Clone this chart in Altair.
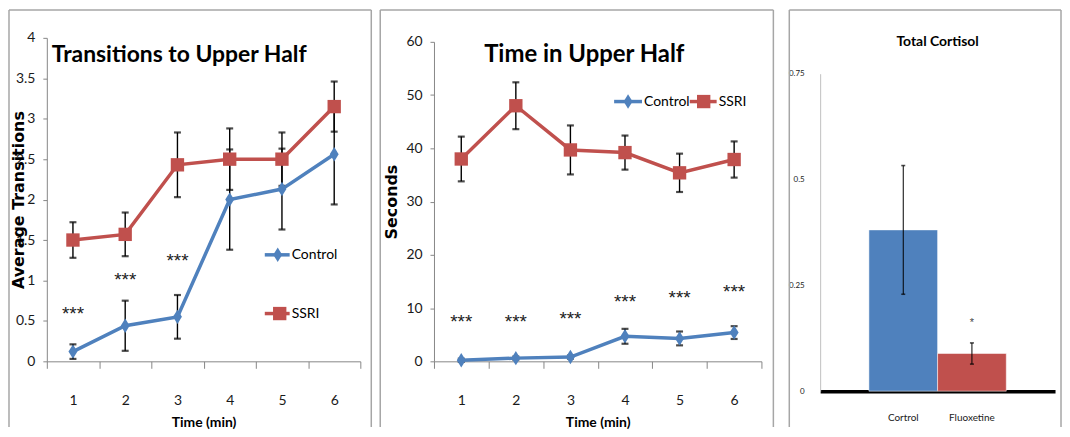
import altair as alt
import pandas as pd

# ---------------- data ----------------
minutes = [1, 2, 3, 4, 5, 6]
series_names = ["Control", "SSRI"]

transitions_control = [0.12, 0.44, 0.55, 2.00, 2.13, 2.56]
transitions_control_err = [0.09, 0.31, 0.27, 0.62, 0.50, 0.62]
transitions_ssri = [1.50, 1.57, 2.43, 2.50, 2.50, 3.15]
transitions_ssri_err = [0.22, 0.27, 0.40, 0.38, 0.33, 0.31]
transitions_star_minutes = [1, 2, 3]
transitions_star_y = [0.58, 1.00, 1.24]

time_control = [0.2, 0.6, 0.8, 4.7, 4.3, 5.4]
time_control_err = [0.3, 0.3, 0.3, 1.4, 1.3, 1.2]
time_ssri = [38.0, 48.0, 39.7, 39.2, 35.4, 37.9]
time_ssri_err = [4.2, 4.4, 4.6, 3.2, 3.6, 3.4]
time_star_minutes = [1, 2, 3, 4, 5, 6]
time_star_y = [7.3, 7.3, 7.9, 11.2, 11.8, 13.1]

cortisol_groups = ["Cortrol", "Fluoxetine"]
cortisol_values = [0.381, 0.089]
cortisol_err = [0.152, 0.025]
cortisol_star_group = ["Fluoxetine"]
cortisol_star_y = [0.16]

# ---------------- style ----------------
BLUE = "#4F81BD"
RED = "#C0504D"
NARROW = "Lato, Roboto, sans-serif"
WIDE = "DejaVu Sans, Verdana, sans-serif"
BORDER = "#A6A6A6"
AXIS = "#868686"
DIAMOND = "M0,-1L0.62,0L0,1L-0.62,0Z"
TOP = 28        # border top above the common plot top
PANEL_H = 419   # border height


def series_frame(vals_c, err_c, vals_s, err_s):
    rows = []
    for name, vals, errs in (("Control", vals_c, err_c), ("SSRI", vals_s, err_s)):
        for m, v, e in zip(minutes, vals, errs):
            rows.append({"minute": m, "series": name, "value": v, "lo": v - e, "hi": v + e})
    return pd.DataFrame(rows)


def frame_rules(left, right):
    base = alt.Chart(pd.DataFrame({"k": [0]}))
    st = dict(color=BORDER, strokeWidth=1.5)
    top, bottom = -TOP, PANEL_H - TOP
    return [
        base.mark_rule(**st).encode(x=alt.value(left), y=alt.value(top), y2=alt.value(bottom)),
        base.mark_rule(**st).encode(x=alt.value(right), y=alt.value(top), y2=alt.value(bottom)),
        base.mark_rule(**st).encode(x=alt.value(left), x2=alt.value(right), y=alt.value(top)),
    ]


def label(text, x, y, size, weight="bold", font=NARROW, align="center"):
    return alt.Chart(pd.DataFrame({"t": [text]})).mark_text(
        font=font, fontSize=size, fontWeight=weight, align=align, baseline="middle", color="black"
    ).encode(x=alt.value(x), y=alt.value(y), text="t:N")


def legend_entry(name, color, shape, size, x0, x1, xm, y, xt):
    d = pd.DataFrame({"t": [name]})
    rule = alt.Chart(d).mark_rule(color=color, strokeWidth=3.5).encode(
        x=alt.value(x0), x2=alt.value(x1), y=alt.value(y))
    pt = alt.Chart(d).mark_point(filled=True, opacity=1, color=color, shape=shape, size=size).encode(
        x=alt.value(xm), y=alt.value(y))
    tx = alt.Chart(d).mark_text(font=NARROW, fontSize=14, align="left", baseline="middle", color="black").encode(
        x=alt.value(xt), y=alt.value(y), text="t:N")
    return [rule, pt, tx]


def line_panel(df, stars, w, h, y_top, ymax, ystep, yfmt, ytitle, ytitle_x, title, tsize, tx, ty,
               legend_layers, left, right):
    xenc = alt.X("minute:O", scale=alt.Scale(type="band", paddingInner=0, paddingOuter=0), bandPosition=0.5,
                 axis=alt.Axis(title="Time (min)", labelAngle=0, tickBand="extent", tickSize=7,
                               labelPadding=25, titlePadding=8, titleFont=NARROW, titleFontSize=14,
                               titleFontWeight="bold"))
    ticks = [i * ystep for i in range(int(round(ymax / ystep)) + 1)]

    def yenc(field):
        return alt.Y(field, scale=alt.Scale(domain=[0, ymax], nice=False, range=[h, y_top]),
                     axis=alt.Axis(values=ticks, format=yfmt, title=ytitle, tickSize=4, labelPadding=8,
                                   titleX=ytitle_x, titleY=(h + y_top) / 2, titleAngle=-90, titleAlign="center",
                                   titleBaseline="middle", titleFont=WIDE, titleFontSize=16,
                                   titleFontWeight="bold"))

    color = alt.Color("series:N", scale=alt.Scale(domain=series_names, range=[BLUE, RED]), legend=None)
    shape = alt.Shape("series:N", scale=alt.Scale(domain=series_names, range=[DIAMOND, "square"]), legend=None)
    size = alt.Size("series:N", scale=alt.Scale(domain=series_names, range=[210, 180]), legend=None)

    base = alt.Chart(df)
    err = base.mark_rule(color="black", strokeWidth=1.4).encode(x=xenc, y=yenc("lo:Q"), y2="hi:Q")
    cap_lo = base.mark_tick(color="black", thickness=2.2, size=7).encode(x=xenc, y=yenc("lo:Q"))
    cap_hi = base.mark_tick(color="black", thickness=2.2, size=7).encode(x=xenc, y=yenc("hi:Q"))
    line = base.mark_line(strokeWidth=3.5).encode(x=xenc, y=yenc("value:Q"), color=color, detail="series:N")
    pts = base.mark_point(filled=True, opacity=1).encode(x=xenc, y=yenc("value:Q"), color=color, shape=shape,
                                                         size=size)
    st = alt.Chart(stars).mark_text(font="Liberation Sans", fontSize=19, baseline="middle", color="#222").encode(
        x=xenc, y=yenc("y:Q"), text="t:N")
    layers = frame_rules(left, right) + [err, cap_lo, cap_hi, line, pts, st] + \
        legend_layers + [label(title, tx, ty, tsize)]
    return alt.layer(*layers).properties(width=w, height=h)


# -------- panel 1 --------
df1 = series_frame(transitions_control, transitions_control_err, transitions_ssri, transitions_ssri_err)
stars1 = pd.DataFrame({"minute": transitions_star_minutes, "y": transitions_star_y,
                       "t": ["***"] * len(transitions_star_minutes)})
leg1 = legend_entry("Control", BLUE, DIAMOND, 210, 219, 244, 232, 218, 246) + \
    legend_entry("SSRI", RED, "square", 180, 219, 244, 234, 277, 246)
p1 = line_panel(df1, stars1, 315, 325, 0, 4, 0.5, ".1~f", "Average Transitions", -28,
                "Transitions to Upper Half", 23, 133, 17, leg1, -38, 326)

# -------- panel 2 --------
df2 = series_frame(time_control, time_control_err, time_ssri, time_ssri_err)
stars2 = pd.DataFrame({"minute": time_star_minutes, "y": time_star_y, "t": ["***"] * len(time_star_minutes)})
leg2 = legend_entry("Control", BLUE, DIAMOND, 210, 181, 209, 195, 64, 211) + \
    legend_entry("SSRI", RED, "square", 180, 257, 284, 271, 64, 286)
p2 = line_panel(df2, stars2, 329, 325, 4, 60, 10, ".0f", "Seconds", -43,
                "Time in Upper Half", 24, 151, 17, leg2, -54, 341)

# -------- panel 3 --------
C_H = 355
C_TOP = 36
cdf = pd.DataFrame({"group": cortisol_groups, "value": cortisol_values,
                    "lo": [v - e for v, e in zip(cortisol_values, cortisol_err)],
                    "hi": [v + e for v, e in zip(cortisol_values, cortisol_err)]})
cstar = pd.DataFrame({"group": cortisol_star_group, "y": cortisol_star_y, "t": ["*"]})
cx = alt.X("group:N", sort=cortisol_groups, scale=alt.Scale(paddingInner=0, paddingOuter=0.71),
           axis=alt.Axis(title=None, labelAngle=0, ticks=False, domainColor="black", domainWidth=3.5,
                         labelFont=NARROW, labelFontSize=10, labelPadding=21))


def cy(field):
    return alt.Y(field, scale=alt.Scale(domain=[0, 0.75], nice=False, range=[C_H, C_TOP]),
                 axis=alt.Axis(values=[0, 0.25, 0.5, 0.75], format=".2~f", title=None, ticks=False,
                               domainColor="#BFBFBF", labelFontSize=8, labelPadding=16))


cb = alt.Chart(cdf)
bars = cb.mark_bar(stroke="white", strokeWidth=0.5).encode(
    x=cx, y=cy("value:Q"),
    color=alt.Color("group:N", scale=alt.Scale(domain=cortisol_groups, range=[BLUE, RED]), legend=None))
cerr = cb.mark_rule(color="black", strokeWidth=1).encode(x=cx, y=cy("lo:Q"), y2="hi:Q")
ccap1 = cb.mark_tick(color="black", thickness=1.6, size=4).encode(x=cx, y=cy("lo:Q"))
ccap2 = cb.mark_tick(color="black", thickness=1.6, size=4).encode(x=cx, y=cy("hi:Q"))
cst = alt.Chart(cstar).mark_text(font="Liberation Sans", fontSize=11, baseline="middle", color="#444").encode(
    x=cx, y=cy("y:Q"), text="t:N")
p3 = alt.layer(*(frame_rules(-31, 242) + [bars, cerr, ccap1, ccap2, cst,
                                          label("Total Cortisol", 118, 4, 14)])
               ).properties(width=236, height=C_H)

chart = alt.hconcat(alt.hconcat(p1, p2, spacing=7), p3, spacing=14).properties(
    padding={"left": 0, "top": 0, "right": 0, "bottom": 0}
).configure_view(stroke=None).configure_axis(
    grid=False, domainColor=AXIS, tickColor=AXIS, labelFont=NARROW, labelFontSize=14, labelColor="#1a1a1a",
    titleColor="black"
)

chart.save("out.html", embed_options={"renderer": "svg", "actions": False})
